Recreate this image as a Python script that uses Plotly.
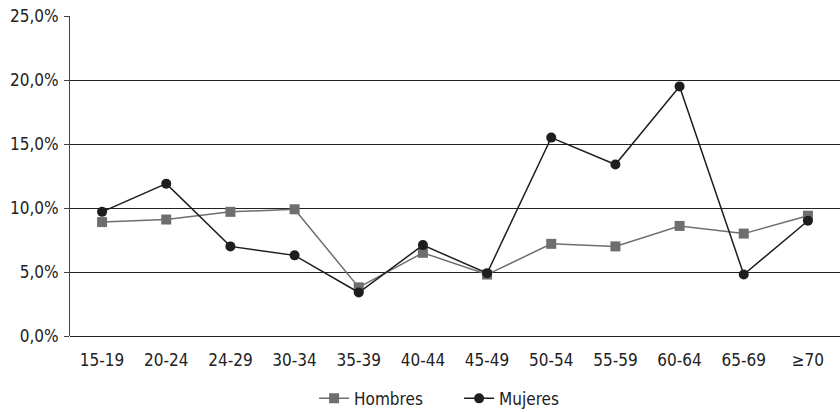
import plotly.graph_objects as go

categories = ["15-19", "20-24", "24-29", "30-34", "35-39", "40-44", "45-49",
              "50-54", "55-59", "60-64", "65-69", "≥70"]
hombres = [8.9, 9.1, 9.7, 9.9, 3.8, 6.5, 4.8, 7.2, 7.0, 8.6, 8.0, 9.4]
mujeres = [9.7, 11.9, 7.0, 6.3, 3.4, 7.1, 4.9, 15.5, 13.4, 19.5, 4.8, 9.0]
y_ticks = [0, 5, 10, 15, 20, 25]
y_labels = ["0,0%", "5,0%", "10,0%", "15,0%", "20,0%", "25,0%"]

FONT = "DejaVu Sans Condensed, Liberation Sans Narrow, Roboto, sans-serif"

fig = go.Figure()
fig.add_trace(go.Scatter(
    x=categories, y=hombres, name="Hombres", mode="lines+markers",
    line=dict(color="#6e6e70", width=1.5),
    marker=dict(symbol="square", size=10, color="#6e6e70"),
))
fig.add_trace(go.Scatter(
    x=categories, y=mujeres, name="Mujeres", mode="lines+markers",
    line=dict(color="#1e1e1e", width=1.5),
    marker=dict(symbol="circle", size=10, color="#1e1e1e"),
))

fig.update_layout(
    width=840, height=412,
    margin=dict(l=70, r=0, t=16, b=76, autoexpand=False),
    paper_bgcolor="white", plot_bgcolor="white",
    font=dict(family=FONT, size=17, color="#222"),
    showlegend=True,
    legend=dict(orientation="h", x=0.317, xanchor="left", y=-0.14, yanchor="top",
                font=dict(size=17), traceorder="normal",
                entrywidth=100, entrywidthmode="pixels"),
    xaxis=dict(range=[-0.5, len(categories) - 0.5],
               showgrid=False, showline=False, ticks="", tickfont=dict(size=17),
               ticklabelstandoff=12, automargin=False),
    yaxis=dict(range=[0, 25], tickvals=y_ticks, ticktext=y_labels,
               showgrid=True, gridcolor="#222", gridwidth=1,
               showline=True, linecolor="#444", linewidth=1,
               ticks="outside", ticklen=5, tickcolor="#444",
               zeroline=True, zerolinecolor="#222", zerolinewidth=1,
               tickfont=dict(size=17), ticklabelstandoff=2, automargin=False),
)

fig.write_html("out.html", config={"displayModeBar": False},
               post_script="document.body.style.margin='0';")
